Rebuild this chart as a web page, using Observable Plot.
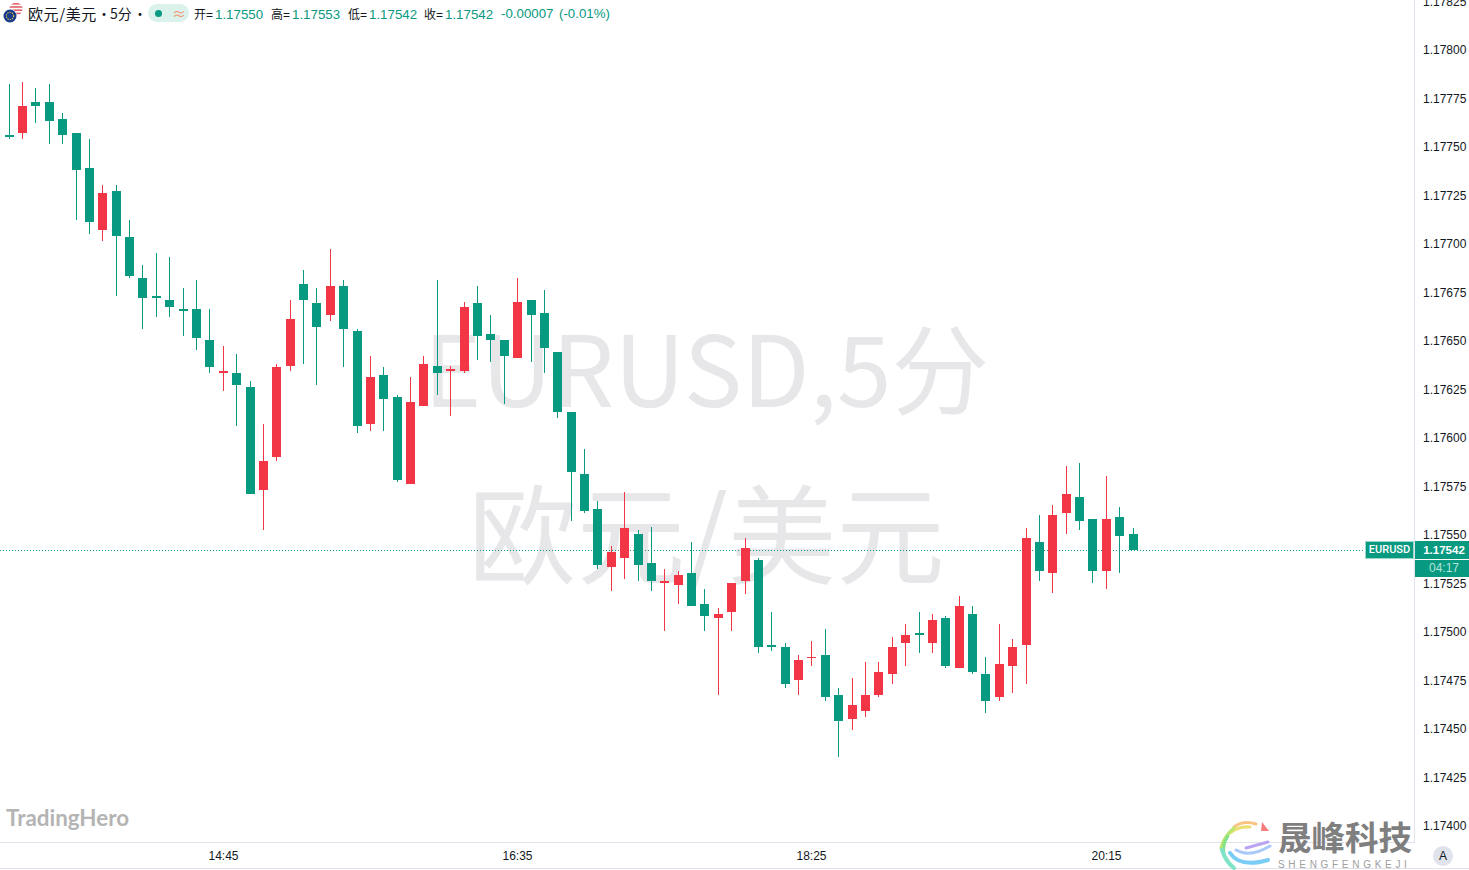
<!DOCTYPE html>
<html><head><meta charset="utf-8">
<script src="https://cdn.jsdelivr.net/npm/d3@7"></script>
<script src="https://cdn.jsdelivr.net/npm/@observablehq/plot@0.6"></script>
<style>
html,body{margin:0;padding:0;background:#fff;overflow:hidden}
#page{position:relative;width:1469px;height:870px;overflow:hidden;font-family:"Liberation Sans",sans-serif;color:#131722}
#page svg.plot{display:block}
.h{position:absolute;top:0;line-height:27px;font-size:13px;white-space:nowrap;font-family:"Noto Sans CJK SC","Liberation Sans",sans-serif}
.n{font-family:"Liberation Sans",sans-serif;color:#089981}
.tag{position:absolute;box-sizing:border-box;text-align:center;background:#089981;color:#fff;font-size:12px;height:18px;line-height:18px}
</style></head><body><div id="page"></div>
<script>
const opens=[1.17756,1.17757,1.17773,1.17773,1.17764,1.17757,1.17739,1.17707,1.17727,1.17703,1.17682,1.17673,1.17671,1.17666,1.17666,1.17650,1.17633,1.17633,1.17626,1.17573,1.17590,1.17637,1.17679,1.17669,1.17663,1.17678,1.17655,1.17607,1.17632,1.17621,1.17576,1.17616,1.17637,1.17634,1.17634,1.17669,1.17653,1.17650,1.17641,1.17671,1.17664,1.17644,1.17613,1.17581,1.17563,1.17533,1.17538,1.17550,1.17535,1.17525,1.17524,1.17530,1.17514,1.17507,1.17510,1.17526,1.17537,1.17493,1.17492,1.17475,1.17486,1.17488,1.17467,1.17455,1.17459,1.17467,1.17478,1.17494,1.17499,1.17494,1.17507,1.17481,1.17509,1.17478,1.17466,1.17482,1.17493,1.17546,1.17530,1.17561,1.17569,1.17558,1.17531,1.17559,1.17550];
const highs=[1.17782,1.17783,1.17780,1.17782,1.17767,1.17757,1.17754,1.17730,1.17730,1.17712,1.17689,1.17695,1.17693,1.17677,1.17681,1.17666,1.17647,1.17643,1.17629,1.17607,1.17638,1.17671,1.17686,1.17677,1.17697,1.17681,1.17656,1.17642,1.17636,1.17622,1.17631,1.17642,1.17681,1.17637,1.17670,1.17678,1.17663,1.17650,1.17682,1.17671,1.17676,1.17644,1.17613,1.17594,1.17567,1.17544,1.17572,1.17552,1.17554,1.17532,1.17531,1.17546,1.17522,1.17512,1.17525,1.17548,1.17538,1.17510,1.17494,1.17488,1.17495,1.17501,1.17471,1.17476,1.17484,1.17484,1.17497,1.17504,1.17510,1.17509,1.17508,1.17518,1.17513,1.17487,1.17504,1.17496,1.17553,1.17560,1.17565,1.17585,1.17587,1.17558,1.17580,1.17564,1.17553];
const lows=[1.17754,1.17754,1.17762,1.17751,1.17751,1.17712,1.17705,1.17701,1.17673,1.17682,1.17656,1.17662,1.17662,1.17652,1.17645,1.17633,1.17624,1.17606,1.17571,1.17552,1.17588,1.17634,1.17638,1.17627,1.17660,1.17636,1.17602,1.17603,1.17603,1.17577,1.17576,1.17616,1.17622,1.17611,1.17633,1.17640,1.17639,1.17617,1.17641,1.17639,1.17633,1.17610,1.17557,1.17561,1.17532,1.17521,1.17527,1.17526,1.17521,1.17500,1.17514,1.17513,1.17500,1.17467,1.17500,1.17519,1.17489,1.17490,1.17471,1.17467,1.17482,1.17464,1.17435,1.17449,1.17456,1.17466,1.17473,1.17482,1.17489,1.17489,1.17481,1.17481,1.17478,1.17458,1.17464,1.17468,1.17473,1.17526,1.17520,1.17550,1.17552,1.17525,1.17522,1.17530,1.17542];
const closes=[1.17755,1.17771,1.17771,1.17763,1.17756,1.17738,1.17711,1.17726,1.17704,1.17683,1.17672,1.17672,1.17667,1.17665,1.17651,1.17636,1.17634,1.17627,1.17571,1.17588,1.17636,1.17661,1.17671,1.17657,1.17678,1.17656,1.17606,1.17631,1.17620,1.17578,1.17618,1.17638,1.17633,1.17635,1.17667,1.17652,1.17650,1.17642,1.17670,1.17663,1.17646,1.17613,1.17582,1.17562,1.17534,1.17541,1.17553,1.17534,1.17526,1.17526,1.17529,1.17513,1.17508,1.17509,1.17525,1.17543,1.17492,1.17492,1.17473,1.17485,1.17487,1.17466,1.17454,1.17462,1.17467,1.17479,1.17492,1.17498,1.17498,1.17506,1.17482,1.17513,1.17479,1.17464,1.17483,1.17492,1.17548,1.17531,1.17560,1.17571,1.17557,1.17531,1.17558,1.17549,1.17542];
const priceTicks=[1.174,1.17425,1.1745,1.17475,1.175,1.17525,1.1755,1.17575,1.176,1.17625,1.1765,1.17675,1.177,1.17725,1.1775,1.17775,1.178,1.17825];
const timeTicks=["14:45","16:35","18:25","20:15"];
const watermarkLines=["EURUSD,5分","欧元/美元"];
const lastPrice=1.17542;
const GREEN="#089981",RED="#F23645",GRID="#e0e3eb";

const day=(h,m)=>new Date(Date.UTC(2025,0,1,h,m));
const candles=opens.map((o,i)=>({t:day(13,25+5*i),o,h:highs[i],l:lows[i],c:closes[i],dir:closes[i]>=o?"up":"down"}));
const tickDates=timeTicks.map(s=>{const [h,m]=s.split(":").map(Number);return day(h,m)});

const plot=Plot.plot({
  width:1469,height:870,marginTop:0,marginRight:55,marginBottom:28,marginLeft:0,
  style:{fontFamily:'"Liberation Sans",sans-serif',fontSize:"12px",color:"#131722",background:"transparent",overflow:"hidden"},
  x:{type:"utc",domain:[new Date(day(13,25).getTime()-3.25*60000),new Date(day(13,25).getTime()+525.16*60000)],round:true,label:null},
  y:{domain:[1.173913919,1.178254124],round:true,label:null},
  color:{type:"ordinal",domain:["up","down"],range:[RED,GREEN]},
  marks:[
    Plot.text([watermarkLines[0]],{frameAnchor:"middle",dy:-46,dx:-1,fontSize:98,fill:"#e7e7e9",fontFamily:'"Noto Sans CJK SC"',text:d=>d}),
    Plot.text([watermarkLines[1]],{frameAnchor:"middle",dy:120,dx:-1,fontSize:108.5,fill:"#e7e7e9",fontFamily:'"Noto Sans CJK SC"',text:d=>d}),
    Plot.ruleY([lastPrice],{stroke:GREEN,strokeDasharray:"1 2",strokeWidth:1}),
    Plot.ruleX(candles,{x:"t",y1:"l",y2:"h",stroke:"dir",strokeWidth:1}),
    Plot.ruleX(candles,{x:"t",y1:"o",y2:"c",stroke:"dir",strokeWidth:9}),
    Plot.axisY({anchor:"right",ticks:priceTicks,tickFormat:d3.format(".5f"),tickSize:0,tickPadding:8.5,dy:0.5,label:null,fill:"#131722"}),
    Plot.axisX({ticks:tickDates,tickFormat:d3.utcFormat("%H:%M"),tickSize:0,tickPadding:9,label:null,fill:"#131722"}),
    Plot.frame({anchor:"right",stroke:GRID,strokeWidth:1}),
    Plot.frame({anchor:"bottom",stroke:GRID,strokeWidth:1})
  ]
});
const page=document.getElementById("page");
page.appendChild(plot);
const yLast=plot.scale("y").apply(lastPrice);

function add(html){const t=document.createElement("div");t.innerHTML=html;while(t.firstChild)page.appendChild(t.firstChild)}
const head=[["开","1.17550",194],["高","1.17553",271],["低","1.17542",348],["收","1.17542",424]];
add(`<svg style="position:absolute;left:0;top:0" width="30" height="28" viewBox="0 0 30 28">
<clipPath id="us"><circle cx="16" cy="9" r="6.5"/></clipPath>
<g clip-path="url(#us)"><rect x="9" y="2" width="15" height="14" fill="#fff"/><rect x="9" y="3" width="15" height="1.6" fill="#e0606a"/><rect x="9" y="6.2" width="15" height="1.6" fill="#e0606a"/><rect x="9" y="9.4" width="15" height="1.6" fill="#e0606a"/><rect x="9" y="12.6" width="15" height="1.6" fill="#e0606a"/></g>
<circle cx="10" cy="16" r="7" fill="#fff"/><circle cx="10" cy="16" r="6.5" fill="#173a8c"/><circle cx="10" cy="16" r="3.6" fill="none" stroke="#e8c93a" stroke-width="1.2" stroke-dasharray="1.2 1.1"/></svg>`);
add(`<div class="h" style="left:28px;font-size:15px;letter-spacing:.6px">欧元/美元</div><div class="h" style="left:97px;font-size:14px">•</div><div class="h" style="left:110px;font-size:14px">5分</div><div class="h" style="left:133px;font-size:14px">•</div>`);
add(`<div style="position:absolute;left:148px;top:4px;width:41px;height:18px;border-radius:9px;background:#daf1ec"></div>
<div style="position:absolute;left:155px;top:9.5px;width:7px;height:7px;border-radius:50%;background:#089981"></div>
<div class="h" style="left:172px;color:#f5916a;font-size:14px">≈</div>`);
head.forEach(([t,v,x])=>add(`<div class="h" style="left:${x}px"><span style="font-size:12px">${t}</span><span class="n" style="color:#131722;font-size:12px">=</span><span class="n" style="margin-left:2px;font-size:13.3px">${v}</span></div>`));
add(`<div class="h n" style="left:501px;font-size:13.3px">-0.00007</div><div class="h n" style="left:559px;font-size:13.3px">(-0.01%)</div>`);
add(`<div class="tag" style="left:1365px;top:${yLast-9}px;width:49px;outline:1px solid #9fd8cc;outline-offset:-1px;font:500 11px/18px Roboto,sans-serif">EURUSD</div>
<div class="tag" style="left:1415px;top:${yLast-9}px;width:54px;padding-left:4px;font-weight:bold;font-size:11.5px">1.17542</div>
<div class="tag" style="left:1415px;top:${yLast+10}px;width:54px;padding-left:4px;height:17px;line-height:17px;color:#b5e3d8">04:17</div>`);
add(`<div style="position:absolute;left:6px;top:803px;font:bold 22.4px/30px Lato,sans-serif;color:#b4b4b4">TradingHero</div>`);
add(`<div style="position:absolute;left:0;top:868px;width:1469px;height:1px;background:${GRID}"></div>`);
add(`<div style="position:absolute;left:1433px;top:846px;width:20px;height:20px;border-radius:50%;background:#e0e3eb;text-align:center;font-size:12px;line-height:20px">A</div>`);
add(`<svg style="position:absolute;left:1215px;top:815px" width="60" height="55" viewBox="1215 815 60 55" fill="none" stroke-linecap="round">
<path d="M1256 824Q1243 820 1234 827" stroke="#f9c483" stroke-width="3"/><path d="M1250 827Q1238 826 1230 833" stroke="#ecdf72" stroke-width="3"/>
<path d="M1234 828Q1224 836 1221 848" stroke="#b8e66e" stroke-width="3"/><path d="M1228 836Q1222 845 1224 855" stroke="#84e289" stroke-width="3"/>
<path d="M1222 850Q1226 862 1234 868" stroke="#7fe3c7" stroke-width="4"/><path d="M1230 853Q1240 868 1268 860" stroke="#79cdf5" stroke-width="4"/>
<path d="M1236 850Q1250 858 1270 846" stroke="#a8c8f8" stroke-width="3"/><path d="M1246 848L1268 842" stroke="#bba4f0" stroke-width="3"/>
<path d="M1262 822L1269 831L1261 831Z" fill="#f77c7c"/></svg>`);
add(`<div style="position:absolute;left:1278px;top:814px;font:bold 33.5px/44px 'Noto Sans CJK SC';color:#7f7f7f;white-space:nowrap">晟峰科技</div>`);
add(`<div style="position:absolute;left:1278px;top:859px;font:10px/12px 'Liberation Sans';letter-spacing:3.7px;color:#a0a0a0;white-space:nowrap">SHENGFENGKEJI</div>`);
</script></body></html>
